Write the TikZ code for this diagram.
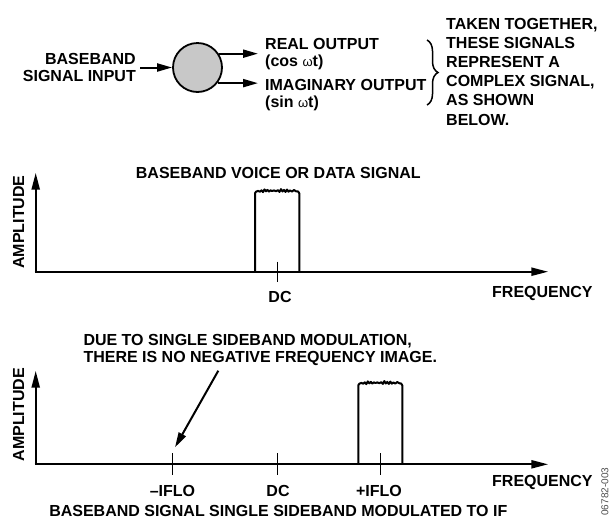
\documentclass[tikz,border=0pt]{standalone}
\usepackage{fontspec}
\setmainfont{Liberation Sans}
\usetikzlibrary{arrows.meta,decorations.pathreplacing}
\definecolor{mixgray}{RGB}{200,200,200}
\newcommand\wavybox[4]{% left, top, right, bottom
  \begin{scope}[shift={(#1,#2)}]
    \pgfmathsetmacro\wbw{#3-#1}\pgfmathsetmacro\wbh{#4-#2}
    \draw[sig] (0,\wbh) -- (0,2.6) -- (1,1.0) -- (3,0.2) -- (5,1.0) -- (6.5,-0.4) -- (8,1.4) -- (9.5,-1.3) -- (11,0.6) -- (12.5,-0.8) -- (14,0.9) -- (15.5,-0.4) -- (17,0.3) -- (19,-0.3) -- (21,0.5) -- (23,-0.5) -- (24.5,1.2) -- (26,-1.6) -- (27.5,0.8) -- (29,-0.8) -- (30.5,1.2) -- (32,-1.1) -- (33.5,1.0) -- (35,-0.3) -- (37,0.9) -- (39,-0.7) -- (41,0.6) -- (\wbw-1.3,0.7) -- (\wbw,2.6) -- (\wbw,\wbh);
  \end{scope}}
\begin{document}
\begin{tikzpicture}[x=1pt,y=-1pt,
  lbl/.style={font=\bfseries\fontsize{16}{17.7}\selectfont, inner sep=0pt},
  axis/.style={line width=2.3pt,-{Triangle[length=17pt,width=8pt]}},
  tick/.style={line width=1pt},
  sig/.style={line width=2pt, line join=round},
  arr/.style={line width=2pt,-{Triangle[length=15pt,width=8pt]}}]
\useasboundingbox (0,0) rectangle (612,520);

% ---------- top block ----------
\node[lbl, align=right, anchor=base east] (bbin) at (136,81.7) {BASEBAND\\SIGNAL INPUT};
\node[circle, draw, line width=1.8pt, fill=mixgray, minimum size=49pt, inner sep=0pt] (mix) at (197.5,67.5) {};
\coordinate (inStart) at (140,67.5);
\draw[arr] (inStart) -- (mix.west);
\coordinate (reTip) at (258,54);
\coordinate (imTip) at (258,82.7);
\draw[arr] (mix.33) -- (reTip |- mix.33);
\draw[arr] (mix.-38) -- (imTip |- mix.-38);
\node[lbl, font=\bfseries\fontsize{16}{17}\selectfont, align=left, anchor=base west] (real) at (265,66) {REAL OUTPUT\\(cos {\mdseries\fontsize{13}{13}\selectfont ω}t)};
\node[lbl, font=\bfseries\fontsize{16}{17}\selectfont, align=left, anchor=base west] (imag) at (265,107) {IMAGINARY OUTPUT\\(sin {\mdseries\fontsize{13}{13}\selectfont ω}t)};
\coordinate (brTop) at (427,40);
\coordinate (brBot) at (427,105);
\draw[decorate, decoration={brace, amplitude=11pt}, line width=1.5pt] (brTop) -- (brBot);
\node[lbl, font=\bfseries\fontsize{16}{19.1}\selectfont, align=left, anchor=base west] (note) at (446,125)
  {TAKEN TOGETHER,\\THESE SIGNALS\\REPRESENT A\\COMPLEX SIGNAL,\\AS SHOWN\\BELOW.};

% ---------- middle panel ----------
\node[lbl, anchor=base] (t1) at (278.3,178.3) {BASEBAND VOICE OR DATA SIGNAL};
\node[lbl, rotate=90, anchor=base] (amp1) at (24,222) {AMPLITUDE};
\coordinate (o1) at (35.7,271.7);
\coordinate (y1) at (35.7,172.7);
\coordinate (x1) at (548.3,271.7);
\draw[axis] (o1) -- (y1);
\draw[axis] ([xshift=-1.15pt]o1) -- (x1);
\wavybox{255}{190.7}{299.3}{271.7}
\coordinate (dcA) at (277.7,261.7);
\coordinate (dcB) at (277.7,282.3);
\draw[tick] (dcA) -- (dcB);
\node[lbl, anchor=base] (dc1) at (280,302.7) {DC};
\node[lbl, anchor=base west] (f1) at (492,297.7) {FREQUENCY};

% ---------- bottom panel ----------
\node[lbl, align=left, anchor=base west] (due) at (83.3,362.7)
  {DUE TO SINGLE SIDEBAND MODULATION,\\THERE IS NO NEGATIVE FREQUENCY IMAGE.};
\coordinate (pS) at (218.3,370.7);
\coordinate (pE) at (175,447.3);
\draw[arr] (pS) -- (pE);
\node[lbl, rotate=90, anchor=base] (amp2) at (24,414.7) {AMPLITUDE};
\coordinate (o2) at (35.7,464.3);
\coordinate (y2) at (35.7,370.7);
\coordinate (x2) at (548.3,464.3);
\draw[axis] (o2) -- (y2);
\draw[axis] ([xshift=-1.15pt]o2) -- (x2);
\wavybox{358.3}{382.7}{402.3}{464.3}
\coordinate (nA) at (172.3,453.3); \coordinate (nB) at (172.3,475);
\coordinate (zA) at (277.7,453.3); \coordinate (zB) at (277.7,475);
\coordinate (pA) at (380,453.3);   \coordinate (pB) at (380,475);
\draw[tick] (nA) -- (nB);
\draw[tick] (zA) -- (zB);
\draw[tick] (pA) -- (pB);
\node[lbl, anchor=base] (nlo) at (172.5,496.7) {–IFLO};
\node[lbl, anchor=base] (dc2) at (278,496.7) {DC};
\node[lbl, anchor=base] (plo) at (379,496.7) {+IFLO};
\node[lbl, anchor=base west] (f2) at (492,486) {FREQUENCY};
\node[lbl, anchor=base] (cap) at (278.3,516) {BASEBAND SIGNAL SINGLE SIDEBAND MODULATED TO IF};
\node[font=\fontsize{10}{10}\selectfont, text=black!70, rotate=90, anchor=base, inner sep=0pt] (fig) at (608.3,491.7) {06782-003};
\end{tikzpicture}
\end{document}
